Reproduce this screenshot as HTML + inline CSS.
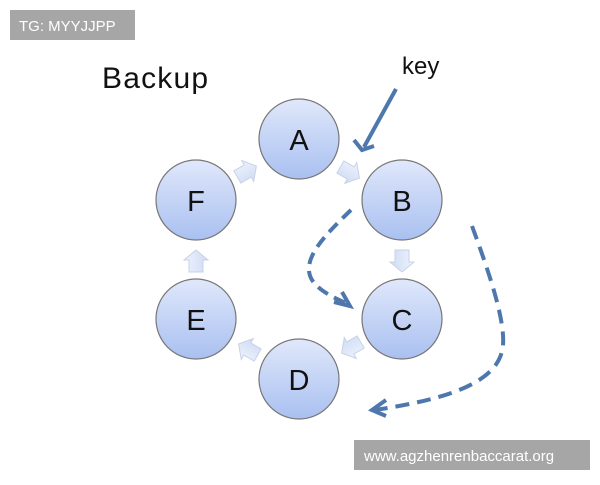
<!DOCTYPE html>
<html><head><style>
body{margin:0;width:600px;height:480px;background:#fff;overflow:hidden;font-family:"Liberation Sans",sans-serif;}
</style></head><body>
<svg width="600" height="480" xmlns="http://www.w3.org/2000/svg">
<defs>
<linearGradient id="g" x1="0" y1="0" x2="0" y2="1">
<stop offset="0" stop-color="#e0e8fb"/><stop offset="1" stop-color="#a9c0f0"/>
</linearGradient>
<linearGradient id="ga" x1="0" y1="0" x2="0" y2="1">
<stop offset="0" stop-color="#eef2fc"/><stop offset="1" stop-color="#cfdcf5"/>
</linearGradient>
<g id="ar"><path d="M-10,-7 L2,-7 L2,-12 L12,0 L2,12 L2,7 L-10,7 Z" fill="url(#ga)" stroke="#c8d2e6" stroke-width="1"/></g>
</defs>
<rect x="10" y="10" width="125" height="30" fill="#a6a6a6"/>
<text x="19" y="31" font-size="15" fill="#fff">TG: MYYJJPP</text>
<text x="102" y="88" font-size="30" fill="#111" textLength="106">Backup</text>
<text x="402" y="74" font-size="24" fill="#111">key</text>
<g stroke="#777" stroke-width="1.2" fill="url(#g)">
<circle cx="299" cy="139" r="40"/>
<circle cx="402" cy="200" r="40"/>
<circle cx="402" cy="319" r="40"/>
<circle cx="299" cy="379" r="40"/>
<circle cx="196" cy="319" r="40"/>
<circle cx="196" cy="200" r="40"/>
</g>
<g font-size="29" fill="#111" text-anchor="middle">
<text x="299" y="150">A</text><text x="402" y="211">B</text><text x="402" y="330">C</text>
<text x="299" y="390">D</text><text x="196" y="330">E</text><text x="196" y="211">F</text>
</g>
<use href="#ar" transform="translate(349,172) rotate(30)"/>
<use href="#ar" transform="translate(402,260) rotate(90)"/>
<use href="#ar" transform="translate(352,347) rotate(150)"/>
<use href="#ar" transform="translate(249,350) rotate(210)"/>
<use href="#ar" transform="translate(196,262) rotate(270)"/>
<use href="#ar" transform="translate(246,172) rotate(330)"/>
<g stroke="#4e77ad" stroke-width="4" fill="none" stroke-linecap="butt">
<line x1="396" y1="89" x2="364" y2="147"/>
<path d="M354,140 L362,150 L374,146"/>
<path d="M351,210 C325,235 300,260 312,280 C320,292 335,298 350,305" stroke-dasharray="12,7"/>
<path d="M334,302 L350,306 L342,292"/>
<path d="M472,226 C490,275 505,320 503,345 C500,385 440,400 375,410" stroke-dasharray="14,8"/>
<path d="M386,400 L372,410 L386,416"/>
</g>
<rect x="354" y="440" width="236" height="30" fill="#a6a6a6"/>
<text x="364" y="461" font-size="15" fill="#fff">www.agzhenrenbaccarat.org</text>
</svg>
</body></html>
